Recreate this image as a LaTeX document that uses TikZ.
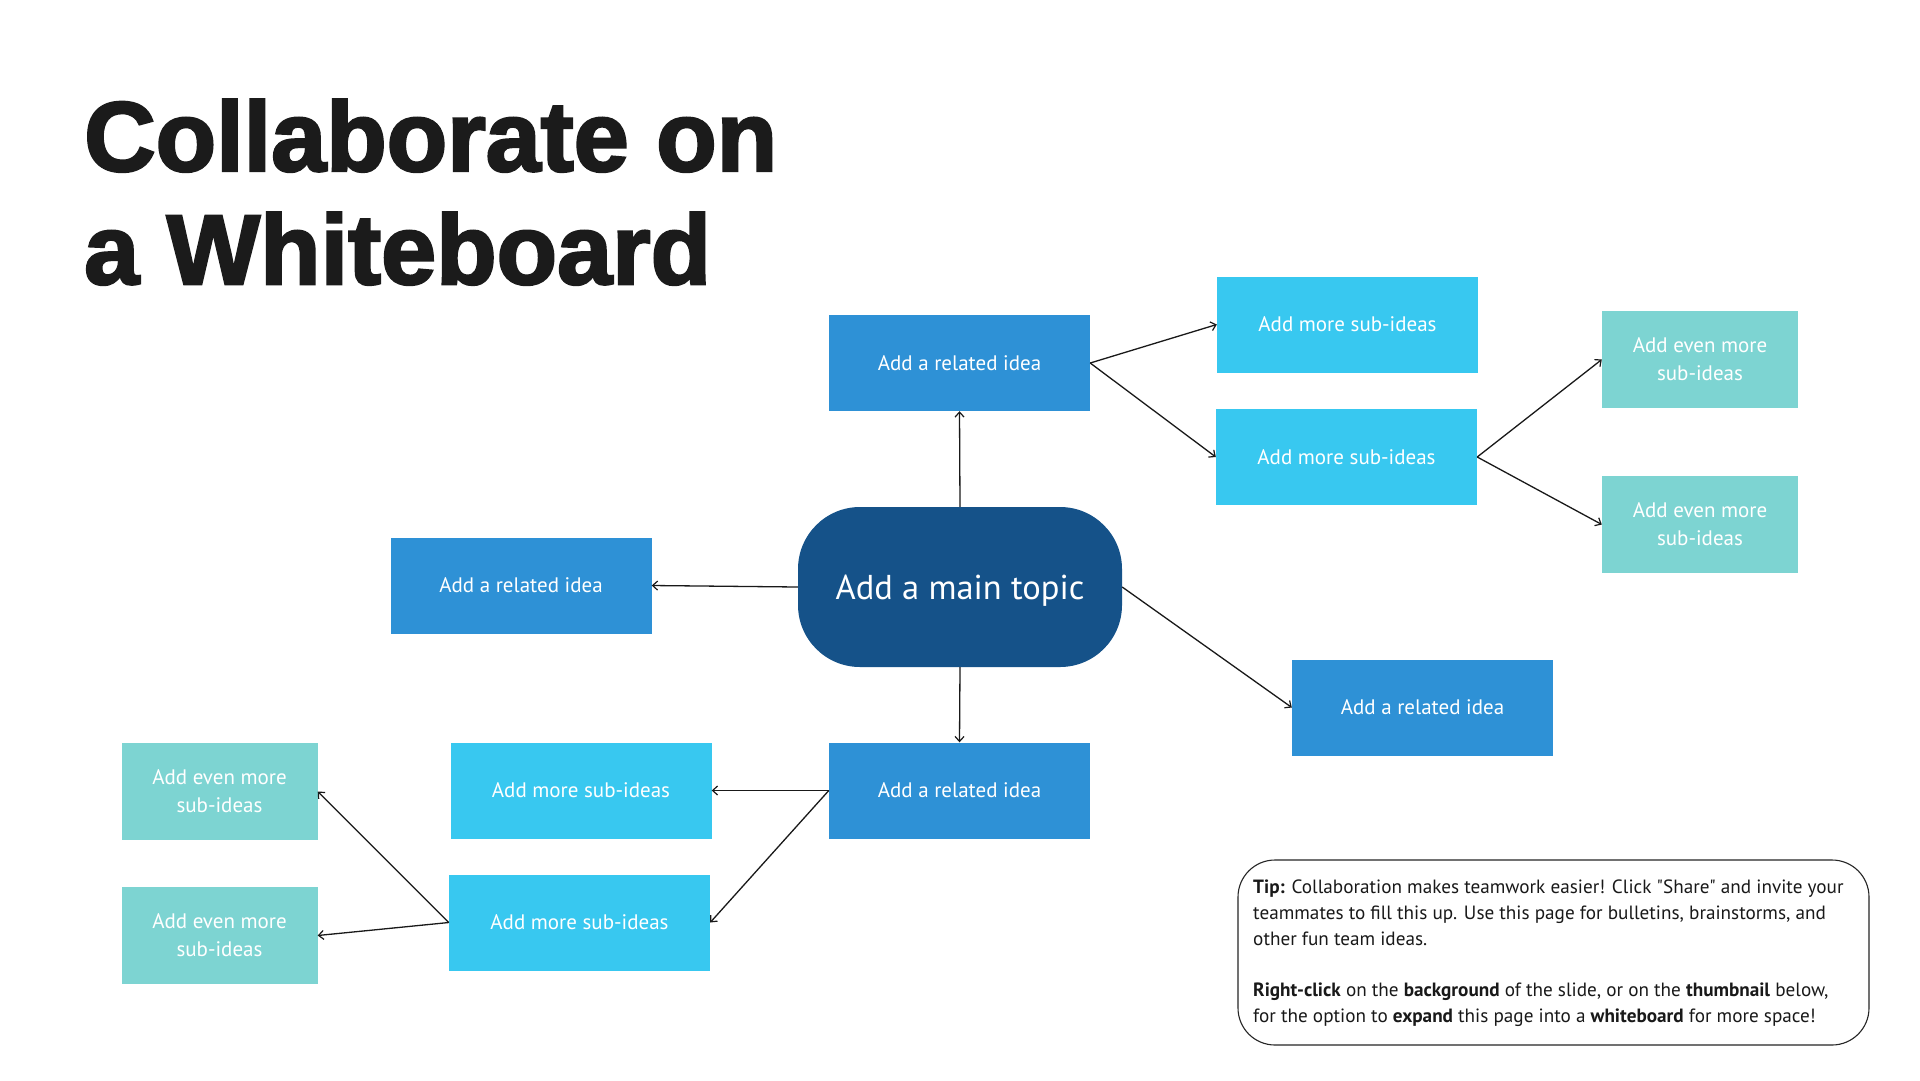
\documentclass[tikz,border=0pt]{standalone}
\usepackage{fontspec}
\setmainfont{PT Sans}
\newfontfamily\titlefont[FakeBold=2.5]{Liberation Sans}
\newfontfamily\tipfont{PT Sans}
\usetikzlibrary{arrows.meta}
\definecolor{relblue}{HTML}{2E91D6}
\definecolor{subblue}{HTML}{38C8F0}
\definecolor{eventeal}{HTML}{7DD4D2}
\definecolor{mainblue}{HTML}{155289}
\definecolor{titleink}{HTML}{1B1B1B}
\tikzset{
  box/.style={rectangle, inner sep=0pt, text=white, align=center,
    font=\fontsize{21}{28}\selectfont},
  relbox/.style={box, fill=relblue, minimum width=261pt, minimum height=96pt},
  subbox/.style={box, fill=subblue, minimum width=261pt, minimum height=96pt},
  evenbox/.style={box, fill=eventeal, minimum width=196pt, minimum height=97pt},
  mainbox/.style={rectangle, rounded corners=62pt, fill=mainblue, text=white,
    minimum width=324pt, minimum height=160pt, inner sep=0pt,
    text height=33pt, text depth=9pt,
    font=\fontsize{34.5}{40}\selectfont},
  arr/.style={draw=black!90, line width=1.3pt,
    -{Straight Barb[length=5pt,width=9pt,line width=1.2pt]}},
  tipframe/.style={draw=black!85, line width=1.1pt, rounded corners=37pt,
    rectangle, minimum width=631pt, minimum height=185pt, inner sep=0pt},
}
\begin{document}
\begin{tikzpicture}[x=1pt,y=-1pt]
\fill[white] (0,0) rectangle (1920,1080);
\useasboundingbox (0,0) rectangle (1920,1080);

% title
\node[anchor=base west, inner sep=0pt, text=titleink, font=\titlefont\bfseries\fontsize{99}{113}\selectfont] (t1) at (84,171) {Collaborate on};
\node[anchor=base west, inner sep=0pt, text=titleink, font=\titlefont\bfseries\fontsize{99}{113}\selectfont] (t2) at (84,284) {a Whiteboard};

% nodes
\node[mainbox] (main) at (960,587) {Add a main topic};
\node[relbox] (r1) at (959.5,363) {Add a related idea};
\node[relbox] (r2) at (521,585.5) {Add a related idea};
\node[relbox] (r3) at (1422.5,707.5) {Add a related idea};
\node[relbox] (r4) at (959.5,790.5) {Add a related idea};

\node[subbox] (s1) at (1347.5,324.5) {Add more sub-ideas};
\node[subbox] (s2) at (1346.5,457) {Add more sub-ideas};
\node[subbox] (s3) at (581,790.5) {Add more sub-ideas};
\node[subbox] (s4) at (579.5,922.5) {Add more sub-ideas};

\node[evenbox] (e1) at (1700,359.5) {Add even more\\sub-ideas};
\node[evenbox] (e2) at (1700,524.5) {Add even more\\sub-ideas};
\node[evenbox] (e3) at (219.5,791.5) {Add even more\\sub-ideas};
\node[evenbox] (e4) at (219.5,935.5) {Add even more\\sub-ideas};

% connectors
\draw[arr] (main.north) -- (r1.south);
\draw[arr] (main.west) -- (r2.east);
\draw[arr] (main.east) -- (r3.west);
\draw[arr] (main.south) -- (r4.north);
\draw[arr] (r1.east) -- (s1.west);
\draw[arr] (r1.east) -- (s2.west);
\draw[arr] (s2.east) -- (e1.west);
\draw[arr] (s2.east) -- (e2.west);
\draw[arr] (r4.west) -- (s3.east);
\draw[arr] (r4.west) -- (s4.east);
\draw[arr] (s4.west) -- (e3.east);
\draw[arr] (s4.west) -- (e4.east);

% tip
\node[tipframe] (tip) at (1553.5,952.5) {};
\node[anchor=north west, inner sep=0pt, align=left, text=black!90,
  font=\tipfont\fontsize{19.2}{25.7}\selectfont] (tiptext) at (1253,880)
  {\textbf{Tip:} Collaboration makes teamwork easier! Click "Share" and invite your\\
   teammates to fill this up. Use this page for bulletins, brainstorms, and\\
   other fun team ideas.\\[25.7pt]
   \textbf{Right-click} on the \textbf{background} of the slide, or on the \textbf{thumbnail} below,\\
   for the option to \textbf{expand} this page into a \textbf{whiteboard} for more space!};
\end{tikzpicture}
\end{document}
